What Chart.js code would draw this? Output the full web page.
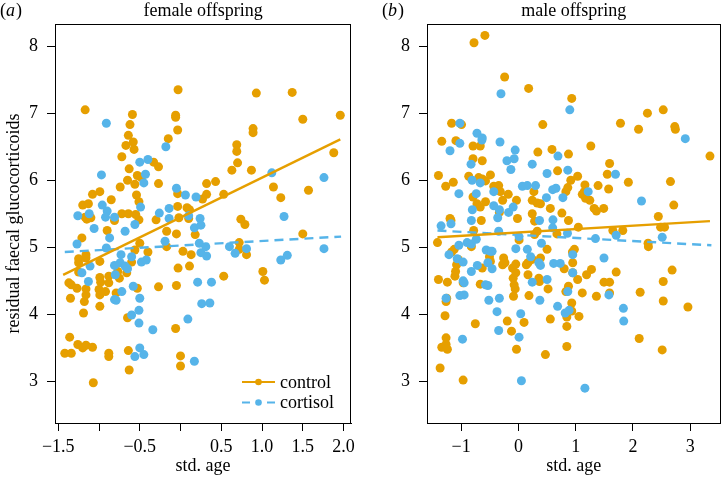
<!DOCTYPE html>
<html>
<head>
<meta charset="utf-8">
<script src="https://cdn.jsdelivr.net/npm/chart.js@4/dist/chart.umd.min.js"></script>
<style>
  html, body { margin: 0; padding: 0; background: #fff; }
  #wrap { position: relative; width: 725px; height: 477px; overflow: hidden; }
  .panel { position: absolute; top: 0; height: 477px; }
  #pa { left: 0; width: 360px; }
  #pb { left: 360px; width: 365px; }
</style>
</head>
<body>
<div id="wrap">
  <div class="panel" id="pa"><canvas id="ca"></canvas></div>
  <div class="panel" id="pb"><canvas id="cb"></canvas></div>
</div>
<script>
// ---------------- DATA ----------------
const panelTitles = ['female offspring', 'male offspring'];
const panelLetters = ['a', 'b'];
const seriesNames = ['control', 'cortisol'];
const yAxisTitle = 'residual faecal glucocorticoids';
const xAxisTitle = 'std. age';

const yTicks = [3, 4, 5, 6, 7, 8];
const yTickLabels = ['3', '4', '5', '6', '7', '8'];
const xTicksA = [-1.5, -1.0, -0.5, 0, 0.5, 1.0, 1.5, 2.0];
const xTickLabelsA = ['\u22121.5', '', '\u22120.5', '', '0.5', '1.0', '1.5', '2.0'];
const xTicksB = [-1, 0, 1, 2, 3];
const xTickLabelsB = ['\u22121', '0', '1', '2', '3'];

// female offspring: control (orange)
const femaleControl = [
  [-1.17,7.05],[-0.03,7.35],[-0.06,6.97],[-0.06,6.94],[-0.035,6.75],[-0.59,6.98],[-0.62,6.83],[-0.64,6.67],
  [-0.58,6.57],[-0.57,6.46],[-0.67,6.52],[-0.72,6.35],[-0.63,6.17],[-0.65,6.0],[-0.56,5.94],[-0.53,6.07],
  [-0.48,6.04],[-0.33,6.27],[-0.27,6.2],[-0.27,5.95],[-0.15,6.62],[0.93,7.30],[1.37,7.31],[1.50,6.91],
  [1.96,6.97],[1.88,6.41],[0.89,6.77],[0.89,6.71],[0.69,6.53],[0.69,6.43],[0.70,6.26],[0.63,6.15],
  [0.87,6.15],[0.43,5.98],[0.32,5.95],[0.32,5.79],[0.27,5.72],[0.53,5.79],[1.57,5.85],[1.23,5.74],
  [1.14,5.90],[1.50,5.2],[0.74,5.42],[0.79,5.34],[-0.035,5.80],[-0.035,5.61],[0.08,5.59],[0.11,5.56],
  [-0.02,5.44],[0.10,5.43],[-0.17,5.24],[-0.30,5.41],[-0.51,5.41],[-0.54,5.78],[-0.51,5.68],[-0.55,5.49],
  [-0.64,5.50],[-0.72,5.50],[-0.74,5.90],[-0.85,5.71],[-0.99,5.83],[-1.08,5.79],[-1.2,5.63],[-1.13,5.65],
  [-1.17,5.45],[-1.15,5.42],[-1.10,5.44],[-0.90,5.25],[-0.81,5.40],
  [-1.42,3.42],[-1.34,3.42],[-1.36,3.66],[-1.26,3.55],[-1.2,3.50],[-1.16,3.54],[-1.08,3.51],[-1.07,2.98],
  [-0.88,3.37],[-0.88,3.42],[-0.64,3.46],[-0.63,3.17],[-0.06,3.79],[0.0,3.38],[0.0,3.23],[-0.65,3.95],
  [-1.37,4.47],[-1.34,4.44],[-1.35,4.24],[-1.27,4.39],[-1.19,4.02],[-1.18,4.19],[-1.16,4.29],[-1.16,4.38],
  [-1.25,4.83],[-1.25,4.77],[-1.25,4.63],[-1.16,4.89],[-1.16,4.84],[-0.99,4.12],[-0.99,4.29],[-1.0,4.37],
  [-0.98,4.48],[-0.99,4.55],[-0.92,4.34],[-0.88,4.47],[-0.88,4.57],[-0.79,4.32],[-0.77,4.64],[-0.66,4.62],
  [-0.75,4.54],[-1.21,5.14],[-0.99,4.79],[-0.60,4.78],[-0.56,4.96],[-0.50,5.06],[-0.53,4.39],[-0.40,4.93],
  [-0.27,4.41],[-0.17,5.01],[-0.05,5.20],[-0.05,4.43],[-0.03,4.69],[0.03,4.94],[0.13,4.89],[0.11,4.72],
  [0.18,5.19],[0.53,4.57],[0.72,5.07],[0.72,4.97],[0.81,4.89],[1.01,4.64],[1.03,4.51]
];
// female offspring: cortisol (blue)
const femaleCortisol = [
  [-0.91,6.85],[-0.18,6.50],[-0.40,6.31],[-0.50,6.27],[-0.43,6.09],[-0.45,5.96],[-0.97,6.08],[-0.05,5.88],
  [0.06,5.78],[0.19,5.75],[1.12,6.11],[1.76,6.04],[1.27,5.46],[-0.96,5.63],[-0.90,5.54],[-0.92,5.45],
  [-0.81,5.45],[-1.12,5.50],[-1.26,5.47],[-1.06,5.28],[-0.49,5.60],[-0.56,5.34],[-0.68,5.24],[-0.26,5.51],
  [-0.14,5.58],[-0.14,5.43],[0.10,5.47],[0.24,5.43],[0.17,5.29],[0.25,5.33],
  [-1.27,5.05],[-1.21,4.62],[-1.13,4.49],[-1.11,4.72],[-0.91,4.99],[-0.87,5.14],[-0.81,4.22],[-0.79,4.21],
  [-0.80,4.59],[-0.81,4.73],[-0.73,4.89],[-0.74,4.77],[-0.72,4.34],[-0.68,4.72],[-0.65,4.68],[-0.60,4.86],
  [-0.58,4.42],[-0.60,3.99],[-0.50,4.24],[-0.51,4.06],[-0.51,3.87],[-0.50,3.50],[-0.56,3.37],[-0.45,3.40],
  [-0.48,4.78],[-0.42,4.81],[-0.34,3.77],[-0.19,5.09],[0.09,3.93],[0.17,3.30],[0.21,4.48],[0.23,5.06],
  [0.25,4.92],[0.26,4.16],[0.31,5.01],[0.32,4.87],[0.36,4.17],[0.38,4.48],[0.60,5.01],[0.67,4.91],
  [0.81,4.98],[1.23,4.81],[1.31,4.88],[1.76,4.98]
];
// male offspring: control (orange)
const maleControl = [
  [-0.776,8.05],[-0.586,8.16],[-0.241,7.54],[0.178,7.37],[0.931,7.22],[0.425,6.83],[-1.167,6.85],[-0.994,6.83],
  [-1.339,6.58],[-1.092,6.59],[-1.397,6.07],[-1.270,5.91],[-1.138,5.97],[-1.195,5.43],[-1.178,5.40],[-0.793,6.51],
  [-0.667,6.51],[-0.793,6.32],[-0.632,6.29],[-0.868,6.06],[-0.695,6.04],[-0.632,6.02],[-0.575,5.99],[-0.489,6.08],
  [-0.793,5.75],[-0.724,5.65],[-0.667,5.60],[-0.575,5.68],[-0.649,5.40],[-0.782,5.25],[-0.431,5.91],[-0.345,5.92],
  [-0.316,5.83],[-0.276,5.70],[-0.178,5.79],[-0.333,5.52],[-0.034,5.70],[-0.017,5.43],[0.241,5.50],[0.282,5.39],
  [0.270,5.83],[0.339,6.42],[0.241,5.70],[0.328,5.66],[0.385,5.65],[0.557,5.58],[0.586,6.46],[0.684,6.14],
  [0.759,5.51],[0.828,5.83],[0.862,5.89],[0.874,6.39],[0.914,6.00],[0.874,5.40],[1.034,6.06],[1.115,5.79],
  [1.149,5.83],[1.161,5.93],[1.172,5.73],[1.247,5.70],[1.264,6.51],[1.322,5.58],[1.362,5.54],[1.391,5.92],
  [1.489,5.58],[1.552,6.09],[1.575,5.87],[1.592,6.25],[1.782,6.85],[1.920,5.97],[2.098,6.76],[2.253,7.00],
  [2.529,7.05],[2.730,6.80],[2.741,6.76],[2.655,5.98],[2.713,5.63],[2.443,5.46],[2.483,5.30],[2.552,5.30],
  [3.345,6.36],[1.822,5.25],[1.649,5.25],[1.046,5.30],[0.672,5.20],[0.282,5.19],[0.328,5.24],
  [-1.414,5.07],[-1.397,4.52],[-1.368,3.20],[-1.339,3.51],[-1.264,3.55],[-1.241,3.48],[-1.264,3.65],[-1.264,4.19],
  [-1.253,4.24],[-1.282,3.98],[-1.241,4.48],[-1.109,4.57],[-1.098,4.64],[-1.080,4.74],[-1.052,4.82],[-1.167,4.93],
  [-1.121,4.97],[-0.966,3.02],[-0.966,4.47],[-0.822,5.01],[-0.753,3.86],[-0.667,4.45],[-0.632,4.69],[-0.506,4.86],
  [-0.489,4.79],[-0.259,4.84],[-0.236,4.77],[-0.276,4.74],[-0.195,3.90],[-0.121,3.75],[-0.103,4.69],[-0.092,4.54],
  [-0.075,4.44],[-0.057,4.38],[-0.086,4.27],[-0.034,3.48],[-0.046,4.62],[-0.046,4.75],[0.011,5.11],[0.098,3.88],
  [0.138,4.74],[0.167,4.77],[0.167,4.59],[0.184,4.28],[0.241,4.82],[0.356,4.54],[0.368,4.49],[0.471,3.40],
  [0.517,4.38],[0.557,3.93],[0.385,4.84],[0.500,4.97],[0.799,4.68],[0.828,4.34],[0.845,3.96],[0.845,3.82],
  [0.845,3.52],[0.874,4.42],[0.931,4.17],[0.931,4.05],[0.948,4.77],[0.948,4.62],[0.943,4.93],[0.977,4.97],
  [1.034,4.52],[1.057,3.97],[1.115,4.32],[1.190,4.59],[1.276,4.67],[1.362,4.27],[1.494,4.48],[1.592,4.48],
  [1.592,4.32],[1.707,4.63],[2.126,4.33],[2.109,3.64],[2.264,5.06],[2.270,5.01],[2.511,3.47],[2.529,4.49],
  [2.529,4.20],[2.684,4.66],[2.960,4.11]
];
// male offspring: cortisol (blue)
const maleCortisol = [
  [-0.305,7.29],[0.897,7.05],[-1.023,6.85],[-1.023,6.55],[-1.195,6.44],[-0.724,6.70],[-0.632,6.63],[-0.638,6.60],
  [-0.322,6.57],[-0.057,6.45],[-0.075,6.32],[-0.201,6.29],[-0.132,6.16],[-0.828,6.24],[-0.810,6.00],[-0.667,5.96],
  [-0.736,5.80],[-1.040,5.80],[-0.431,5.83],[-0.805,5.56],[-0.822,5.40],[-0.431,5.62],[-0.333,5.56],[-0.362,5.44],
  [-0.172,5.52],[-0.092,5.60],[0.069,5.91],[0.241,6.24],[0.155,5.92],[0.299,5.92],[0.368,5.40],[0.489,5.74],
  [0.500,6.10],[0.598,5.86],[0.655,5.88],[0.690,6.36],[0.776,5.74],[0.862,6.15],[0.603,5.41],[0.598,5.29],
  [-1.351,5.32],[-1.178,5.35],[1.218,5.83],[1.695,6.09],[2.149,5.69],[2.914,6.62],
  [-1.264,4.24],[-1.213,4.89],[-1.040,5.03],[-1.069,4.83],[-0.966,4.78],[-0.966,4.50],[-0.948,4.47],[-1.023,4.28],
  [-0.948,4.29],[-0.977,3.63],[-0.897,5.07],[-0.822,5.05],[-0.736,5.12],[-0.822,4.64],[-0.718,4.73],[-0.575,4.44],
  [-0.534,4.43],[-0.563,4.96],[-0.489,4.94],[-0.460,4.94],[-0.534,4.77],[-0.460,4.68],[-0.517,4.21],[-0.374,4.04],
  [-0.345,3.76],[-0.333,4.24],[-0.046,4.98],[0.040,4.01],[0.011,3.66],[0.052,3.01],[0.155,4.97],[0.213,4.86],
  [0.241,4.48],[0.356,4.77],[0.385,4.73],[0.374,4.21],[0.402,5.06],[0.500,4.52],[0.615,4.76],[0.730,4.76],
  [0.684,4.12],[0.816,4.02],[0.885,4.06],[0.862,4.34],[0.948,4.62],[0.948,4.89],[1.161,2.90],[1.345,5.13],
  [1.494,4.84],[1.580,4.29],[1.707,5.18],[1.833,4.09],[1.839,3.90],[2.511,5.15],[-0.345,5.24],[0.011,5.16],
  [0.856,5.21]
];
// fitted regression lines (end points)
const femaleControlFit = [[-1.44,4.59],[1.96,6.61]];
const femaleCortisolFit = [[-1.42,4.93],[1.97,5.16]];
const maleControlFit = [[-1.414,5.15],[3.345,5.39]];
const maleCortisolFit = [[-1.414,5.25],[3.37,5.03]];

// axis ranges
const xRangeA = [-1.54, 2.094];
const xRangeB = [-1.597, 3.529];
const yRange = [2.38, 8.33];

// ---------------- STYLE ----------------
const ORANGE = '#E69F00';
const BLUE = '#56B4E9';
const FONT = '"Liberation Serif", "Times New Roman", serif';
const FS = 18;

const toPts = arr => arr.map(p => ({x: p[0], y: p[1]}));

function frameAndText(opts) {
  return {
    id: 'frameAndText',
    afterDraw(chart) {
      const ctx = chart.ctx;
      const a = chart.chartArea;
      ctx.save();
      ctx.strokeStyle = '#000';
      ctx.lineWidth = 1;
      ctx.strokeRect(Math.round(a.left) + 0.5, Math.round(a.top) + 0.5,
                     Math.round(a.right - a.left) - 1, Math.round(a.bottom - a.top));
      // title
      ctx.fillStyle = '#000';
      ctx.font = FS + 'px ' + FONT;
      ctx.textBaseline = 'alphabetic';
      ctx.textAlign = 'center';
      ctx.fillText(opts.title, (a.left + a.right) / 2, 15.5);
      // panel letter "(a)"
      ctx.textAlign = 'left';
      let x = opts.letterX;
      ctx.font = FS + 'px ' + FONT;
      ctx.fillText('(', x, 15.5); x += ctx.measureText('(').width;
      ctx.font = 'italic ' + FS + 'px ' + FONT;
      ctx.fillText(opts.letter, x, 15.5); x += ctx.measureText(opts.letter).width + 1;
      ctx.font = FS + 'px ' + FONT;
      ctx.fillText(')', x, 15.5);
      // legend
      if (opts.legend) {
        const items = [
          {name: seriesNames[0], color: ORANGE, dash: []},
          {name: seriesNames[1], color: BLUE, dash: [9, 6]}
        ];
        const lx0 = 242, lx1 = 275, tx = 280;
        const ys = [382, 402.5];
        items.forEach((it, i) => {
          ctx.strokeStyle = it.color;
          ctx.lineWidth = 2.2;
          ctx.beginPath();
          if (it.dash.length) {
            ctx.moveTo(lx0, ys[i]); ctx.lineTo(lx0 + 8, ys[i]);
            ctx.moveTo(lx1 - 8, ys[i]); ctx.lineTo(lx1, ys[i]);
          } else {
            ctx.moveTo(lx0, ys[i]); ctx.lineTo(lx1, ys[i]);
          }
          ctx.stroke();
          ctx.fillStyle = it.color;
          ctx.beginPath(); ctx.arc((lx0 + lx1) / 2, ys[i], 3.3, 0, Math.PI * 2); ctx.fill();
          ctx.fillStyle = '#000';
          ctx.font = FS + 'px ' + FONT;
          ctx.textBaseline = 'middle';
          ctx.textAlign = 'left';
          ctx.fillText(it.name, tx, ys[i] + 1);
        });
      }
      ctx.restore();
    }
  };
}

function makeChart(canvasId, cfg) {
  const datasets = [
    {label: seriesNames[0] + ' fit', data: toPts(cfg.ctrlFit), showLine: true, borderColor: ORANGE,
     borderWidth: 2.4, pointRadius: 0, fill: false},
    {label: seriesNames[1] + ' fit', data: toPts(cfg.cortFit), showLine: true, borderColor: BLUE,
     borderWidth: 2.4, borderDash: [9, 6], pointRadius: 0, fill: false},
    {label: seriesNames[1], data: toPts(cfg.cort), backgroundColor: BLUE, borderWidth: 0, pointRadius: 4.5},
    {label: seriesNames[0], data: toPts(cfg.ctrl), backgroundColor: ORANGE, borderWidth: 0, pointRadius: 4.5}
  ];
  return new Chart(document.getElementById(canvasId), {
    type: 'scatter',
    data: {datasets},
    options: {
      responsive: true,
      maintainAspectRatio: false,
      animation: false,
      events: [],
      layout: {padding: {top: 24, right: cfg.padRight, left: 0, bottom: 0}},
      plugins: {legend: {display: false}, tooltip: {enabled: false}},
      scales: {
        x: {
          type: 'linear', min: cfg.xRange[0], max: cfg.xRange[1],
          afterBuildTicks: s => { s.ticks = cfg.xTicks.map(v => ({value: v})); },
          afterFit: s => { s.height = 54; },
          ticks: {
            callback: (v, i) => cfg.xTickLabels[i],
            autoSkip: false, maxRotation: 0, padding: 5, color: '#000',
            font: {family: FONT, size: FS}
          },
          grid: {drawOnChartArea: false, drawTicks: true, tickLength: 8, color: '#000', lineWidth: 1},
          border: {display: true, color: '#000', width: 1},
          title: {display: true, text: xAxisTitle, color: '#000', font: {family: FONT, size: FS},
                  padding: {top: 0, bottom: 0}}
        },
        y: {
          type: 'linear', min: yRange[0], max: yRange[1],
          afterBuildTicks: s => { s.ticks = yTicks.map(v => ({value: v})); },
          afterFit: s => { s.width = cfg.yWidth; },
          ticks: {
            callback: (v, i) => yTickLabels[i],
            autoSkip: false, padding: 9, color: '#000',
            font: {family: FONT, size: FS}
          },
          grid: {drawOnChartArea: false, drawTicks: true, tickLength: 8, color: '#000', lineWidth: 1},
          border: {display: true, color: '#000', width: 1},
          title: {display: cfg.yTitle, text: yAxisTitle, color: '#000', font: {family: FONT, size: FS},
                  padding: {top: 3, bottom: 0}}
        }
      }
    },
    plugins: [frameAndText({title: cfg.title, letter: cfg.letter, letterX: cfg.letterX, legend: cfg.legend})]
  });
}

makeChart('ca', {
  ctrl: femaleControl, cort: femaleCortisol, ctrlFit: femaleControlFit, cortFit: femaleCortisolFit,
  xRange: xRangeA, xTicks: xTicksA, xTickLabels: xTickLabelsA, yWidth: 55, padRight: 8,
  yTitle: true, title: panelTitles[0], letter: panelLetters[0], letterX: 0, legend: true
});
makeChart('cb', {
  ctrl: maleControl, cort: maleCortisol, ctrlFit: maleControlFit, cortFit: maleCortisolFit,
  xRange: xRangeB, xTicks: xTicksB, xTickLabels: xTickLabelsB, yWidth: 67, padRight: 1,
  yTitle: false, title: panelTitles[1], letter: panelLetters[1], letterX: 22, legend: false
});
</script>
</body>
</html>
